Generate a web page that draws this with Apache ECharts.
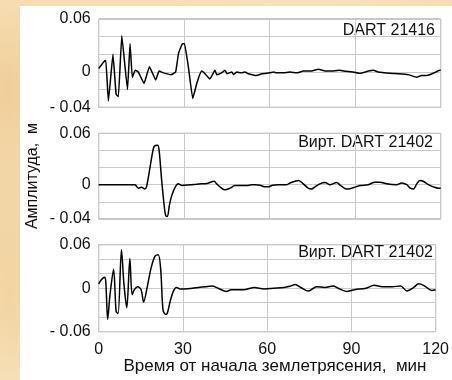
<!DOCTYPE html>
<html>
<head>
<meta charset="utf-8">
<script src="https://cdn.jsdelivr.net/npm/echarts@6/dist/echarts.min.js"></script>
<style>
  html, body { margin: 0; padding: 0; }
  body {
    width: 452px; height: 380px; overflow: hidden; position: relative;
    background:
      radial-gradient(ellipse 60px 120px at 8px 90px, rgba(236,196,140,0.55), rgba(236,196,140,0) 70%),
      radial-gradient(ellipse 50px 140px at 10px 290px, rgba(240,206,150,0.6), rgba(240,206,150,0) 70%),
      radial-gradient(ellipse 200px 20px at 300px 0px, rgba(250,228,190,0.7), rgba(250,228,190,0) 70%),
      linear-gradient(180deg, #f6dcb0 0%, #f3d6a6 50%, #f6e0b8 100%);
  }
  #paper { position: absolute; left: 20px; top: 6px; right: 0; bottom: 0; background: #fff; }
  #chart { position: absolute; left: 0; top: 0; width: 452px; height: 380px; }
</style>
</head>
<body>
<div id="paper"></div>
<div id="chart"></div>
<script>
// Recorded sea level, DART 21416: [minutes, metres]
const dart21416 = [
  [0,0.004],[1.9,0.012],[2.5,0.013],[3.4,-0.033],[5.0,0.020],[6.1,-0.025],[6.9,-0.028],
  [8.1,0.041],[10.1,-0.020],[11.0,0.032],[11.8,-0.006],[12.8,0.002],[13.9,0.000],
  [15.9,-0.013],[17.8,0.006],[20.0,-0.009],[21.2,0.001],[22.7,-0.001],[25.4,-0.003],
  [27.0,0.000],[28.0,0.021],[29.4,0.032],[30.1,0.032],[31.5,0.005],[33.0,-0.030],
  [34.5,-0.012],[36.1,0.001],[37.3,-0.002],[39.0,-0.008],[40.8,0.002],[41.4,-0.003],
  [43.1,-0.001],[44.3,0.002],[45.0,-0.002],[46.7,0.000],[47.3,-0.003],[48.4,0.000],
  [50.0,-0.001],[51.3,0.000],[52.5,-0.002],[55.4,-0.004],[57.2,-0.002],[60.1,-0.001],
  [61.3,0.000],[62.5,-0.001],[64.8,-0.001],[67.1,0.000],[69.5,-0.001],[71.8,0.001],
  [74.2,0.001],[77.1,0.003],[79.8,0.001],[81.2,0.001],[84.7,0.002],[86.0,0.001],
  [89.3,0.000],[91.7,-0.0015],[94.6,0.001],[96.4,0.002],[98.0,0.000],[102.2,-0.0015],
  [105.1,-0.002],[108.6,-0.003],[111.6,-0.006],[113.3,-0.004],[115.1,-0.004],
  [117.4,-0.0015],[119.6,0.002],[120,0.002]
];

// Virtual gauge DART 21402, far-field source only
const virt21402a = [
  [0,0],[12.7,0],[13.3,-0.002],[13.9,-0.004],[15.0,-0.003],[16.2,-0.005],[16.8,-0.002],
  [17.6,0.012],[18.6,0.032],[19.5,0.045],[20.7,0.046],[21.2,0.040],[22.1,0.005],
  [22.9,-0.022],[23.5,-0.036],[24.1,-0.037],[24.8,-0.024],[25.6,-0.013],[26.8,-0.003],
  [27.9,0.001],[29.3,-0.001],[32,0],[34.3,0.0005],[36.1,0.001],[37.9,0.0015],[40.5,0.004],
  [41.4,0.001],[43.1,-0.004],[44.3,-0.006],[46.1,-0.004],[47.8,-0.001],[49.6,-0.001],
  [51.9,-0.001],[53.7,0],[54.9,0],[56.6,-0.0005],[58.4,-0.0025],[59.5,-0.0025],
  [61.0,-0.0005],[63.0,0],[66.0,0],[67.1,0.002],[68.9,0.004],[70.1,0.005],[71.8,0.001],
  [73.5,-0.004],[74.7,-0.005],[75.9,-0.0025],[77.6,0.001],[79.4,0.0025],[81.2,0],
  [83.5,0.0025],[84.7,-0.0005],[86.4,-0.0045],[87.6,-0.005],[89.3,-0.0035],[91.7,-0.001],
  [94.6,0],[96.9,0.003],[98.7,0.003],[101.0,0.001],[104.5,0],[106.3,0.002],[108.1,0],
  [109.3,-0.004],[110.4,-0.005],[111.6,0.001],[112.7,0.005],[113.9,0.004],[115.7,0],
  [117.4,-0.0025],[119.2,-0.004],[120,-0.004]
];

// Virtual gauge DART 21402, with the near-field oscillations
const virt21402b = [
  [0,0.006],[0.8,0.011],[2.0,0.015],[2.5,0.010],[3.2,-0.043],[4.0,-0.010],[5.3,0.026],
  [6.2,-0.032],[6.9,-0.035],[8.1,0.053],[9.0,0.005],[10.0,-0.027],[11.1,0.041],
  [11.9,-0.009],[12.7,-0.002],[13.9,0.002],[15.1,-0.002],[16.0,-0.019],[17.4,0.004],
  [18.6,0.027],[20.0,0.044],[21.2,0.046],[22.1,0.025],[22.9,-0.030],[23.8,-0.036],
  [24.4,-0.035],[25.4,-0.019],[26.5,-0.005],[27.7,0.001],[29.1,-0.001],[30.3,-0.001],
  [35.5,0.001],[38,0.002],[40.3,0.003],[42.5,0.000],[45.5,-0.0045],[47.2,-0.002],
  [51.9,-0.002],[55.4,0.001],[58.9,-0.001],[62.4,0],[66,0.001],[68.3,0.003],[70.0,0.005],
  [72,0.001],[74.7,-0.004],[77.6,0.002],[80.5,0.001],[83.5,0.003],[85.3,0],[88.2,-0.0045],
  [91.1,-0.002],[95.2,0],[98.1,0.004],[101,0.002],[104.5,0.002],[107.5,0.003],
  [109.8,-0.004],[112.2,0.001],[113.9,0.006],[115.7,0.004],[118.6,-0.003],[120,-0.002]
];

const panelNames = ['DART 21416', 'Вирт. DART 21402', 'Вирт. DART 21402'];
const yRanges = [[-0.04, 0.06], [-0.04, 0.06], [-0.06, 0.06]];
const yTickValues = [[-0.04, 0, 0.06], [-0.04, 0, 0.06], [-0.06, 0, 0.06]];
const yTickText = [['- 0.04', '0', '0.06'], ['- 0.04', '0', '0.06'], ['- 0.06', '0', '0.06']];
const xTickValues = [0, 30, 60, 90, 120];
const xTitle = 'Время от начала землетрясения,  мин';
const yTitle = 'Амплитуда,  м';

const FONT = '"Liberation Sans", Arial, sans-serif';
const grids = [
  { left: 98.7, right: 11.3, top: 19, height: 88.3 },
  { left: 98.7, right: 11.3, top: 133.3, height: 85.7 },
  { left: 98.7, right: 11.3, top: 244.7, height: 87 }
];
const series = [dart21416, virt21402a, virt21402b];

const chart = echarts.init(document.getElementById('chart'), null, { renderer: 'canvas' });

function labelFor(values, texts) {
  return function (v) {
    for (let i = 0; i < values.length; i++) {
      if (Math.abs(v - values[i]) < 1e-9) return texts[i];
    }
    return '';
  };
}

const option = {
  animation: false,
  backgroundColor: 'transparent',
  grid: grids.map(g => Object.assign({ show: true, borderColor: '#8f8f8f', borderWidth: 1, backgroundColor: 'transparent' }, g)),
  xAxis: grids.map((g, i) => ({
    type: 'value', gridIndex: i, min: 0, max: 120, interval: 30,
    axisLine: { show: false }, axisTick: { show: false },
    splitLine: { show: true, lineStyle: { color: '#c9c9c9', width: 1 } },
    axisLabel: {
      show: i === 2, color: '#111', fontSize: 16, fontFamily: FONT, margin: 10,
      formatter: labelFor(xTickValues, xTickValues.map(String))
    }
  })),
  yAxis: grids.map((g, i) => ({
    type: 'value', gridIndex: i, min: yRanges[i][0], max: yRanges[i][1], interval: 0.02,
    axisLine: { show: false }, axisTick: { show: false },
    splitLine: { show: true, lineStyle: { color: '#c9c9c9', width: 1 } },
    axisLabel: {
      color: '#111', fontSize: 16, fontFamily: FONT, margin: 8,
      formatter: labelFor(yTickValues[i], yTickText[i])
    }
  })),
  series: series.map((d, i) => ({
    type: 'line', xAxisIndex: i, yAxisIndex: i, data: d,
    showSymbol: false, smooth: i === 0 ? 0.1 : 0.3,
    lineStyle: { color: '#000', width: 1.5 }
  })),
  graphic: [
    { type: 'text', right: 17, top: 23, style: { text: panelNames[0], font: '16px ' + FONT, fill: '#111' } },
    { type: 'text', right: 19, top: 135, style: { text: panelNames[1], font: '16px ' + FONT, fill: '#111' } },
    { type: 'text', right: 19, top: 245, style: { text: panelNames[2], font: '16px ' + FONT, fill: '#111' } },
    { type: 'text', x: 275, y: 366, style: { text: xTitle, font: '17px ' + FONT, fill: '#111', align: 'center', verticalAlign: 'middle' } },
    { type: 'text', x: 33, y: 176, rotation: Math.PI / 2, style: { text: yTitle, font: '16px ' + FONT, fill: '#111', align: 'center', verticalAlign: 'middle' } }
  ]
};
chart.setOption(option);
</script>
</body>
</html>
